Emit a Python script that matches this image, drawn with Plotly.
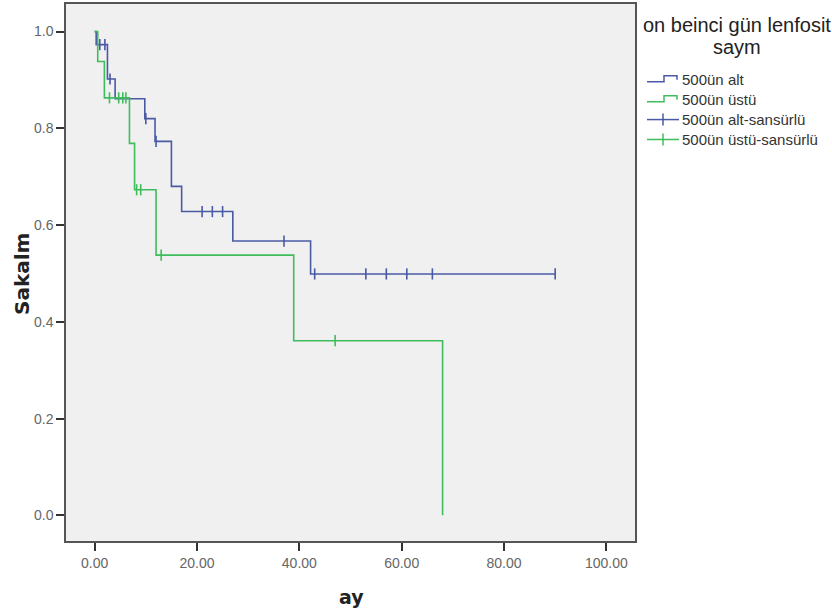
import plotly.graph_objects as go

# ---- data ----
alt_t = [0, 0.3, 2.5, 4.0, 9.8, 11.8, 15.0, 17.0, 27.0, 42.2, 90.0]
alt_s = [1.0, 0.973, 0.902, 0.861, 0.820, 0.773, 0.680, 0.628, 0.567, 0.499, 0.499]
alt_cens_t = [1.0, 2.0, 3.0, 10.0, 12.0, 21.0, 23.0, 25.0, 37.0, 43.0, 53.0, 57.0, 61.0, 66.0, 90.0]
alt_cens_s = [0.973, 0.973, 0.902, 0.820, 0.773, 0.628, 0.628, 0.628, 0.567, 0.499, 0.499, 0.499, 0.499, 0.499, 0.499]

ust_t = [0, 0.6, 1.9, 6.8, 7.8, 12.0, 38.9, 68.0]
ust_s = [1.0, 0.938, 0.863, 0.769, 0.673, 0.538, 0.361, 0.0]
ust_cens_t = [2.9, 4.7, 5.5, 6.1, 8.2, 9.0, 13.0, 47.0]
ust_cens_s = [0.863, 0.863, 0.863, 0.863, 0.673, 0.673, 0.538, 0.361]

x_ticks = [0, 20, 40, 60, 80, 100]
y_ticks = [0.0, 0.2, 0.4, 0.6, 0.8, 1.0]

legend_title = ["on beinci gün lenfosit", "saym"]
legend_labels = ["500ün alt", "500ün üstü", "500ün alt-sansürlü", "500ün üstü-sansürlü"]

BLUE = "#4a59a3"
GREEN = "#3fbd5c"
FONT = "Liberation Sans, Arial, sans-serif"
BOLDFONT = "DejaVu Sans, Liberation Sans, sans-serif"

fig = go.Figure()
fig.add_trace(go.Scatter(x=alt_t, y=alt_s, mode="lines", line=dict(color=BLUE, width=1.6, shape="hv"),
                         showlegend=False, hoverinfo="skip"))
fig.add_trace(go.Scatter(x=alt_cens_t, y=alt_cens_s, mode="markers",
                         marker=dict(symbol="line-ns", size=8, line=dict(color=BLUE, width=1.6)),
                         showlegend=False, hoverinfo="skip"))
fig.add_trace(go.Scatter(x=ust_t, y=ust_s, mode="lines", line=dict(color=GREEN, width=1.6, shape="hv"),
                         showlegend=False, hoverinfo="skip"))
fig.add_trace(go.Scatter(x=ust_cens_t, y=ust_cens_s, mode="markers",
                         marker=dict(symbol="line-ns", size=8, line=dict(color=GREEN, width=1.6)),
                         showlegend=False, hoverinfo="skip"))

W, H = 832, 614
L, R, T, B = 66, 635, 2, 541


def px(x):
    return (x - L) / (R - L)


def py(y):
    return (B - y) / (B - T)


shapes = []
annotations = []

# legend title
annotations.append(dict(x=px(737), y=py(23), xref="paper", yref="paper", text=legend_title[0],
                        showarrow=False, xanchor="center", yanchor="middle",
                        font=dict(family=FONT, size=20, color="#222")))
annotations.append(dict(x=px(737), y=py(45), xref="paper", yref="paper", text=legend_title[1],
                        showarrow=False, xanchor="center", yanchor="middle",
                        font=dict(family=FONT, size=20, color="#222")))

item_y = [78, 98, 118, 138]
colors = [BLUE, GREEN, BLUE, GREEN]
for i, (lab, yc, col) in enumerate(zip(legend_labels, item_y, colors)):
    if i < 2:
        path = "M {},{} L {},{} L {},{} L {},{} L {},{}".format(
            px(647), py(yc + 2), px(664), py(yc + 2), px(664), py(yc - 4), px(677), py(yc - 4), px(677), py(yc))
        shapes.append(dict(type="path", path=path, xref="paper", yref="paper",
                           line=dict(color=col, width=1.5)))
    else:
        shapes.append(dict(type="line", x0=px(647), x1=px(679), y0=py(yc), y1=py(yc),
                           xref="paper", yref="paper", line=dict(color=col, width=1.5)))
        shapes.append(dict(type="line", x0=px(663), x1=px(663), y0=py(yc - 6), y1=py(yc + 6),
                           xref="paper", yref="paper", line=dict(color=col, width=1.5)))
    annotations.append(dict(x=px(680), y=py(yc), xref="paper", yref="paper", text=lab,
                            showarrow=False, xanchor="left", yanchor="middle",
                            font=dict(family=FONT, size=15, color="#333")))

# axis titles
annotations.append(dict(x=px(22), y=py(273), xref="paper", yref="paper", text="<b>Sakalm</b>",
                        textangle=-90, showarrow=False, xanchor="center", yanchor="middle",
                        font=dict(family=BOLDFONT, size=20, color="#222")))
annotations.append(dict(x=px(351), y=py(597), xref="paper", yref="paper", text="<b>ay</b>",
                        showarrow=False, xanchor="center", yanchor="middle",
                        font=dict(family=BOLDFONT, size=19, color="#222")))

fig.update_layout(
    width=W, height=H,
    margin=dict(l=L, r=W - R, t=T, b=H - B),
    paper_bgcolor="white",
    plot_bgcolor="#f0f0f0",
    shapes=shapes,
    annotations=annotations,
    showlegend=False,
)
fig.update_xaxes(range=[-5.6, 105.6], tickvals=x_ticks, tickformat=".2f",
                 showgrid=False, zeroline=False,
                 showline=True, mirror=True, linecolor="#555", linewidth=1.5,
                 ticks="outside", ticklen=8, tickwidth=1.5, tickcolor="#333",
                 tickfont=dict(family=FONT, size=14, color="#666"))
fig.update_yaxes(range=[-0.053, 1.057], tickvals=y_ticks, tickformat=".1f",
                 showgrid=False, zeroline=False,
                 showline=True, mirror=True, linecolor="#555", linewidth=1.5,
                 ticks="outside", ticklen=8, tickwidth=1.5, tickcolor="#333",
                 tickfont=dict(family=FONT, size=14, color="#666"))

fig.write_html("out.html")
